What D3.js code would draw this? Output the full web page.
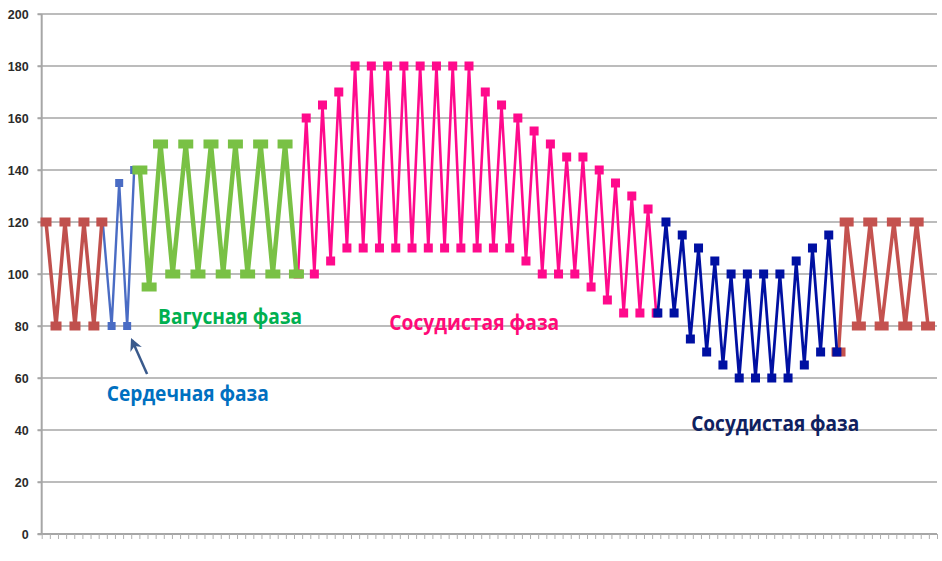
<!DOCTYPE html>
<html><head><meta charset="utf-8">
<script src="https://cdn.jsdelivr.net/npm/d3@7"></script>
<style>html,body{margin:0;padding:0;background:#fff;}svg{display:block;}</style>
</head><body>
<svg id="chart" width="942" height="561"></svg>
<script>
// ---- data (x = position along the category axis, y = value) ----
const yTicks = [0, 20, 40, 60, 80, 100, 120, 140, 160, 180, 200];
const categoryCount = 110;

const redLeftX = [0.53, 1.76, 2.86, 4.09, 5.19, 6.41, 7.39];
const redLeftY = [120, 80, 120, 80, 120, 80, 120];

const cardiacX = [7.5, 8.59, 9.52, 10.5, 11.36];
const cardiacY = [120, 80, 135, 80, 140];

const vagalX = [12.06, 13.2, 14.6, 16.1, 17.7, 19.2, 20.8, 22.3, 23.8, 25.3, 26.9, 28.4, 29.9, 31.3];
const vagalY = [140, 95, 150, 100, 150, 100, 150, 100, 150, 100, 150, 100, 150, 100];

const vascular1Start = 31.5;
const vascular1Y = [100,160,100,165,105,170,110,180,110,180,110,180,110,180,110,180,110,180,110,180,110,180,110,170,110,165,110,160,105,155,100,150,100,145,100,145,95,140,90,135,85,130,85,125,85];

const vascular2Start = 75.7;
const vascular2Y = [85,120,85,115,75,110,70,105,65,100,60,100,60,100,60,100,60,105,65,110,70,115,70];

const redRightX = [97.9, 98.9, 100.4, 101.8, 103.2, 104.7, 106.1, 107.5, 108.9];
const redRightY = [70, 120, 80, 120, 80, 120, 80, 120, 80];

const labels = [
  {text: "Вагусная фаза",   x: 14.3, y: 80.6, color: "#00B050", w: 144},
  {text: "Сосудистая фаза", x: 42.7, y: 78.4, color: "#FF0A78", w: 170},
  {text: "Сердечная фаза",  x: 8.0,  y: 51.2, color: "#0070C0", w: 162},
  {text: "Сосудистая фаза", x: 79.8, y: 39.7, color: "#0F2160", w: 168}
];

// ---- build series ----
const zip = (xs, ys) => ys.map((v, i) => ({x: xs[i], y: v}));
const seq = (start, ys) => ys.map((v, i) => ({x: start + i, y: v}));

const series = [
  {pts: zip(redRightX, redRightY), color: "#C4524F", lw: 3.5, mw: 14, mh: 9},
  {pts: seq(vascular1Start, vascular1Y), color: "#FF0A8C", lw: 2.6, mw: 9, mh: 9},
  {pts: seq(vascular2Start, vascular2Y), color: "#0010A2", lw: 2.8, mw: 9, mh: 9},
  {pts: zip(cardiacX, cardiacY), color: "#4A6CC4", lw: 2.4, mw: 8, mh: 8},
  {pts: zip(redLeftX, redLeftY), color: "#C0504D", lw: 3.5, mw: 11, mh: 9},
  {pts: zip(vagalX, vagalY), color: "#79C145", lw: 4.5, mw: 15, mh: 9}
];

// ---- scales ----
const svg = d3.select("#chart");
const x = d3.scaleLinear().domain([0, categoryCount]).range([41.7, 937]);
const y = d3.scaleLinear().domain([0, 200]).range([534, 14]);

// gridlines
svg.append("g").selectAll("line").data(yTicks.filter(d => d > 0)).join("line")
  .attr("x1", 37.5).attr("x2", 937)
  .attr("y1", d => y(d)).attr("y2", d => y(d))
  .attr("stroke", "#A6A6A6").attr("stroke-width", 1.5);

// y axis
const yAxis = d3.axisLeft(y).tickValues(yTicks).tickSize(4).tickPadding(9);
const gy = svg.append("g").attr("transform", "translate(41.7,0)").call(yAxis);
gy.select(".domain").attr("stroke", "#A6A6A6").attr("stroke-width", 2).attr("d", `M0,${y(200)}V${y(0)}`);
gy.selectAll(".tick line").attr("stroke", "#A6A6A6").attr("stroke-width", 1.5);
gy.selectAll(".tick text").attr("font-family", "Liberation Sans, Arial, sans-serif")
  .attr("font-size", 12.5).attr("font-weight", "bold").attr("fill", "#2b2b2b");

// x axis
const xAxis = d3.axisBottom(x).tickValues(d3.range(0, categoryCount + 1)).tickSize(5).tickFormat("");
const gx = svg.append("g").attr("transform", `translate(0,${y(0)})`).call(xAxis);
gx.select(".domain").attr("stroke", "#A6A6A6").attr("stroke-width", 2).attr("d", `M37.5,0H937`);
gx.selectAll(".tick line").attr("stroke", "#B0B0B0").attr("stroke-width", 1);

// series
const line = d3.line().x(d => x(d.x)).y(d => y(d.y));
series.forEach(s => {
  const g = svg.append("g");
  g.append("path").datum(s.pts).attr("d", line)
    .attr("fill", "none").attr("stroke", s.color).attr("stroke-width", s.lw)
    .attr("stroke-linejoin", "miter").attr("stroke-miterlimit", 3);
  g.selectAll("rect").data(s.pts).join("rect")
    .attr("x", d => x(d.x) - s.mw / 2).attr("y", d => y(d.y) - s.mh / 2)
    .attr("width", s.mw).attr("height", s.mh).attr("fill", s.color);
});

// labels
svg.append("g").selectAll("text").data(labels).join("text")
  .attr("x", d => x(d.x)).attr("y", d => y(d.y))
  .attr("fill", d => d.color)
  .attr("font-family", "Open Sans, Noto Sans, sans-serif")
  .attr("font-weight", "bold").attr("font-size", 20.5)
  .attr("textLength", d => d.w).attr("lengthAdjust", "spacingAndGlyphs")
  .text(d => d.text);

// arrow
const defs = svg.append("defs");
defs.append("marker").attr("id", "ah").attr("viewBox", "0 0 10 10")
  .attr("refX", 8).attr("refY", 5).attr("markerWidth", 5).attr("markerHeight", 5)
  .attr("orient", "auto")
  .append("path").attr("d", "M0,0 L10,5 L0,10 L3,5 Z").attr("fill", "#3A5A8C");
svg.append("line")
  .attr("x1", x(12.95)).attr("y1", y(61.5))
  .attr("x2", x(11.1)).attr("y2", y(74.5))
  .attr("stroke", "#3A5A8C").attr("stroke-width", 2.5)
  .attr("marker-end", "url(#ah)");
</script>
</body></html>
